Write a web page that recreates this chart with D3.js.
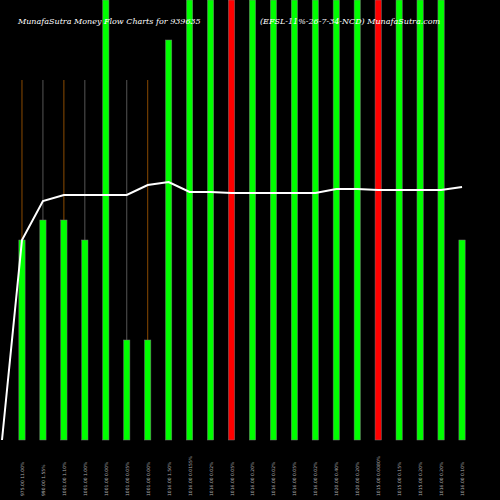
<!DOCTYPE html>
<html><head><script src="https://d3js.org/d3.v7.min.js"></script>
<style>body{margin:0;background:#000}</style></head>
<body><div id="chart"></div>
<script>
// bar heights as share of plot height, colour, price line, labels
var barValues = [50, 55, 55, 50, 110, 25, 25, 100, 110, 110, 110, 110, 110, 110, 110, 110, 110, 110, 110, 110, 110, 50];
var barColors = ["g","g","g","g","g","g","g","g","g","g","r","g","g","g","g","g","g","r","g","g","g","g"];
var priceValues = [975, 1014, 1020, 1020, 1020, 1020, 1030, 1033, 1023, 1023, 1022, 1022, 1022, 1022, 1022, 1026, 1026, 1025, 1025, 1025, 1025, 1028];
var wickColors = ["#8a4a00","#555","#8a4a00","#555","#555","#555","#8a4a00","#555","#555","#555","#555","#555","#555","#555","#555","#555","#555","#555","#555","#555","#555","#555"];
var labels = ["975.00 11.00%","990.00 1.55%","1001.00 1.10%","1001.00 1.00%","1001.00 0.00%","1001.00 0.05%","1001.00 0.00%","1016.00 1.50%","1016.00 0.0155%","1016.00 0.02%","1016.00 0.05%","1016.00 0.20%","1016.00 0.02%","1016.00 0.05%","1016.00 0.02%","1020.00 0.40%","1020.00 0.20%","1015.00 0.0080%","1015.00 0.15%","1015.00 0.20%","1016.00 0.20%","1016.00 0.10%"];

var svg = d3.select("#chart").append("svg").attr("width", 500).attr("height", 500)
  .style("background", "#000");

var x = d3.scaleBand().domain(d3.range(barValues.length)).range([11.5, 472.5])
  .paddingInner(0.7).paddingOuter(0.35);
var y = d3.scaleLinear().domain([0, 100]).range([440, 40]);
var yp = d3.scaleLinear().domain([975, 1033]).range([240, 182]);

// thin wick lines
svg.selectAll(".wick").data(d3.range(8)).enter().append("line")
  .attr("x1", i => x(i) + x.bandwidth() / 2).attr("x2", i => x(i) + x.bandwidth() / 2)
  .attr("y1", 80).attr("y2", 440).attr("stroke", i => wickColors[i]).attr("stroke-width", 1);

svg.selectAll(".bar").data(barValues).enter().append("rect")
  .attr("x", (d, i) => x(i))
  .attr("y", d => Math.max(0, y(d)))
  .attr("width", x.bandwidth())
  .attr("height", d => 440 - Math.max(0, y(d)))
  .attr("fill", (d, i) => barColors[i] == "r" ? "#ff0000" : "#00ff00")
  .attr("stroke", "#777").attr("stroke-width", 0.5);

var line = d3.line().x((d, i) => x(i) + x.bandwidth() / 2).y(d => yp(d));
svg.append("path").datum(priceValues).attr("d", d => "M2,440L" + line(d).slice(1))
  .attr("fill", "none").attr("stroke", "#fff").attr("stroke-width", 2);

svg.append("text").attr("x", 18).attr("y", 24).attr("fill", "#fff")
  .style("font", "italic 8px 'DejaVu Serif'").text("MunafaSutra  Money Flow  Charts for 939635");
svg.append("text").attr("x", 260).attr("y", 24).attr("fill", "#fff")
  .style("font", "italic 8px 'DejaVu Serif'").text("(EFSL-11%-26-7-34-NCD) MunafaSutra.com");

svg.selectAll(".lab").data(labels).enter().append("text")
  .attr("transform", (d, i) => `translate(${x(i) + x.bandwidth() / 2 + 2},496) rotate(-90)`)
  .attr("fill", "#aaa").style("font", "4.5px 'DejaVu Sans'").text(d => d);
</script></body></html>
